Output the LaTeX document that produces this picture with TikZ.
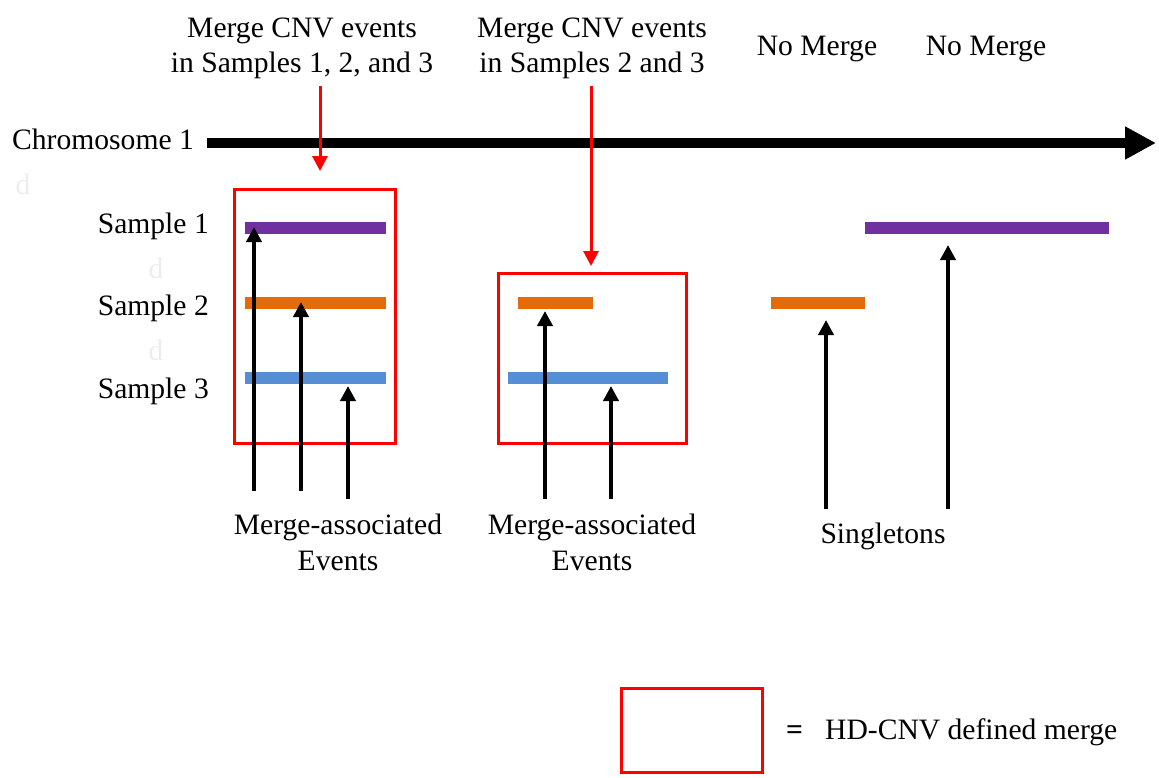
\documentclass[tikz,border=0pt]{standalone}
\usepackage{fontspec}
\setmainfont{Liberation Serif}
\usetikzlibrary{arrows.meta}
\definecolor{cnvpurple}{HTML}{7030A0}
\definecolor{cnvorange}{HTML}{E36C09}
\definecolor{cnvblue}{HTML}{558ED5}
\definecolor{mergered}{HTML}{FF0000}
\tikzset{
  lbl/.style={inner sep=0pt, font=\fontsize{29.6}{35}\selectfont, anchor=base},
  ghost/.style={inner sep=0pt, font=\fontsize{29.6}{35}\selectfont, text=black!7, anchor=base},
  mergebox/.style={draw=mergered, line width=3pt},
  cnvbar/.style={line width=12pt},
  evtarrow/.style={line width=4.5pt, -{Triangle[width=15pt,length=15pt]}},
  mergearrow/.style={draw=mergered, line width=3pt, -{Triangle[width=15pt,length=15pt]}},
}
\begin{document}
\begin{tikzpicture}[x=1pt,y=-1pt]
\useasboundingbox (0,0) rectangle (1159,777);

% chromosome axis
\node[lbl, anchor=base west] (chr) at (12,149) {Chromosome 1};
\coordinate (chrA) at (207,143);
\coordinate (chrB) at (1156,143);
\draw[line width=10pt, -{Triangle[width=31pt,length=31pt]}] (chrA) -- (chrB);

% faint placeholder glyphs
\node[ghost] (g1) at (23,194) {d};
\node[ghost] (g2) at (156,278) {d};
\node[ghost] (g3) at (156,360) {d};

% sample labels
\node[lbl, anchor=base east] (s1) at (209,233) {Sample 1};
\node[lbl, anchor=base east] (s2) at (209,315) {Sample 2};
\node[lbl, anchor=base east] (s3) at (209,398) {Sample 3};

% headings
\node[lbl] (h1a) at (302,37) {Merge CNV events};
\node[lbl] (h1b) at (302,72) {in Samples 1, 2, and 3};
\node[lbl] (h2a) at (592,37) {Merge CNV events};
\node[lbl] (h2b) at (592,72) {in Samples 2 and 3};
\node[lbl] (h3) at (817,55) {No Merge};
\node[lbl] (h4) at (986,55) {No Merge};

% merge boxes
\node[mergebox, minimum width=161pt, minimum height=254pt, inner sep=0pt] (box1) at (314.5,316) {};
\node[mergebox, minimum width=188pt, minimum height=170pt, inner sep=0pt] (box2) at (592,358) {};

% red pointers into the merges
\coordinate (r1a) at (320,86);
\coordinate (r1b) at (320,171);
\coordinate (r2a) at (591,86);
\coordinate (r2b) at (591,266);
\draw[mergearrow] (r1a) -- (r1b);
\draw[mergearrow] (r2a) -- (r2b);

% CNV events in the first merge
\draw[cnvbar, cnvpurple] (245,228) coordinate (b11) -- (386,228);
\draw[cnvbar, cnvorange] (245,303) coordinate (b12) -- (386,303);
\draw[cnvbar, cnvblue]   (245,378) coordinate (b13) -- (386,378);
% CNV events in the second merge
\draw[cnvbar, cnvorange] (518,303) -- (593,303);
\draw[cnvbar, cnvblue]   (508,378) -- (668,378);
% singleton events
\draw[cnvbar, cnvorange] (771,303) -- (865,303);
\draw[cnvbar, cnvpurple] (865,228) -- (1109,228);

% event pointers
\coordinate (e1t) at (254,491); \coordinate (e1h) at (254,227);
\coordinate (e2t) at (301,491); \coordinate (e2h) at (301,302);
\coordinate (e3t) at (348,499); \coordinate (e3h) at (348,386);
\coordinate (e4t) at (545,499); \coordinate (e4h) at (545,311);
\coordinate (e5t) at (611,499); \coordinate (e5h) at (611,386);
\coordinate (e6t) at (826,509); \coordinate (e6h) at (826,320);
\coordinate (e7t) at (948,509); \coordinate (e7h) at (948,245);
\foreach \i in {1,...,7} \draw[evtarrow] (e\i t) -- (e\i h);

% captions
\node[lbl] (c1a) at (338,534) {Merge-associated};
\node[lbl] (c1b) at (338,570) {Events};
\node[lbl] (c2a) at (592,534) {Merge-associated};
\node[lbl] (c2b) at (592,570) {Events};
\node[lbl] (c3) at (883,543) {Singletons};

% legend
\node[mergebox, minimum width=141pt, minimum height=84pt, inner sep=0pt] (legbox) at (691.5,730) {};
\node[lbl, anchor=base west] (legeq) at (786,739) {\textbf{=}};
\node[lbl, anchor=base west] (legtxt) at (825,739) {HD-CNV defined merge};
\end{tikzpicture}
\end{document}
